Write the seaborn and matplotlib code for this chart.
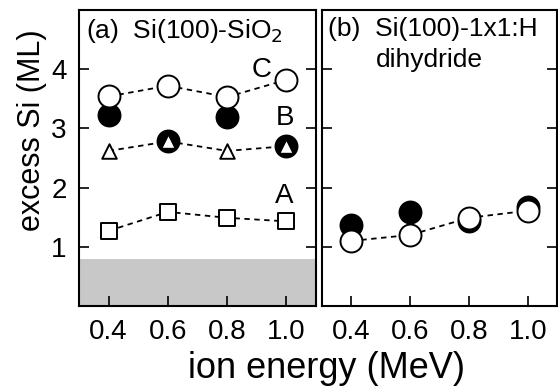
import pandas as pd
import matplotlib.pyplot as plt
import seaborn as sns

# ion energy (MeV)
energia = [0.4, 0.6, 0.8, 1.0]

# painel (a) Si(100)-SiO2
a_C_aberto = [3.54, 3.72, 3.53, 3.82]
a_B_cheio = [3.22, 2.79, 3.20, 2.71]
a_B_triang = [2.62, 2.78, 2.62, 2.70]
a_A_quad = [1.27, 1.59, 1.49, 1.43]

# painel (b) Si(100)-1x1:H dihydride
b_cheio = [1.37, 1.58, 1.43, 1.67]
b_aberto = [1.10, 1.20, 1.49, 1.61]

sns.set_theme(style="ticks")
plt.rcParams['font.family'] = ['Liberation Sans', 'DejaVu Sans']
plt.rcParams['text.color'] = 'black'
plt.rcParams['xtick.color'] = 'black'
plt.rcParams['ytick.color'] = 'black'
plt.rcParams['axes.labelcolor'] = 'black'

fig = plt.figure(figsize=(5.58, 3.88), dpi=100)
ax_a = fig.add_axes([0.1416, 0.2113, 0.4247, 0.763])
ax_b = fig.add_axes([0.5771, 0.2113, 0.4215, 0.763])


def linha(ax, y):
    df = pd.DataFrame({'x': energia, 'y': y})
    sns.lineplot(x='x', y='y', data=df, ax=ax, color='black', lw=1.3,
                 linestyle=(0, (3, 2.5)), zorder=1)


def pontos(ax, y, marker, face, s, z=3):
    df = pd.DataFrame({'x': energia, 'y': y})
    sns.scatterplot(x='x', y='y', data=df, ax=ax, marker=marker, s=s,
                    facecolor=face, edgecolor='black', linewidth=1.4,
                    zorder=z, legend=False)


# (a)
ax_a.axhspan(0, 0.8, color='#c8c8c8', lw=0, zorder=0)
linha(ax_a, a_C_aberto)
linha(ax_a, a_B_triang)
linha(ax_a, a_A_quad)
pontos(ax_a, a_B_cheio, 'o', 'black', 250, 2)
pontos(ax_a, a_C_aberto, 'o', 'white', 250, 3)
pontos(ax_a, a_B_triang, '^', 'white', 110, 4)
pontos(ax_a, a_A_quad, 's', 'white', 140, 4)
ax_a.text(0.325, 4.88, '(a)  Si(100)-SiO$_2$', fontsize=19, va='top', ha='left')
ax_a.text(0.918, 3.98, 'C', fontsize=20, ha='center', va='center')
ax_a.text(0.995, 3.17, 'B', fontsize=20, ha='center', va='center')
ax_a.text(0.992, 1.85, 'A', fontsize=20, ha='center', va='center')

# (b)
linha(ax_b, b_aberto)
pontos(ax_b, b_cheio, 'o', 'black', 250, 2)
pontos(ax_b, b_aberto, 'o', 'white', 250, 3)
ax_b.text(0.32, 4.88, '(b)  Si(100)-1x1:H', fontsize=19, va='top', ha='left')
ax_b.text(0.483, 4.35, 'dihydride', fontsize=19, va='top', ha='left')

for ax in (ax_a, ax_b):
    ax.set_xlim(0.3, 1.1)
    ax.set_ylim(0, 5)
    ax.set_xticks(energia)
    ax.set_xticklabels(['0.4', '0.6', '0.8', '1.0'])
    ax.set_yticks([1, 2, 3, 4])
    ax.tick_params(direction='in', length=7, width=1.2, labelsize=20,
                   right=True, top=False, pad=9)
    ax.set_xlabel('')
    ax.set_ylabel('')
    for sp in ax.spines.values():
        sp.set_linewidth(1.5)
        sp.set_color('black')

ax_b.set_yticklabels([])
fig.text(0.057, 0.665, 'excess Si (ML)', fontsize=22, rotation=90,
         ha='center', va='center')
fig.text(0.585, 0.005, 'ion energy (MeV)', fontsize=26, ha='center', va='bottom')

fig.savefig('out.png', dpi=100)
plt.close()
